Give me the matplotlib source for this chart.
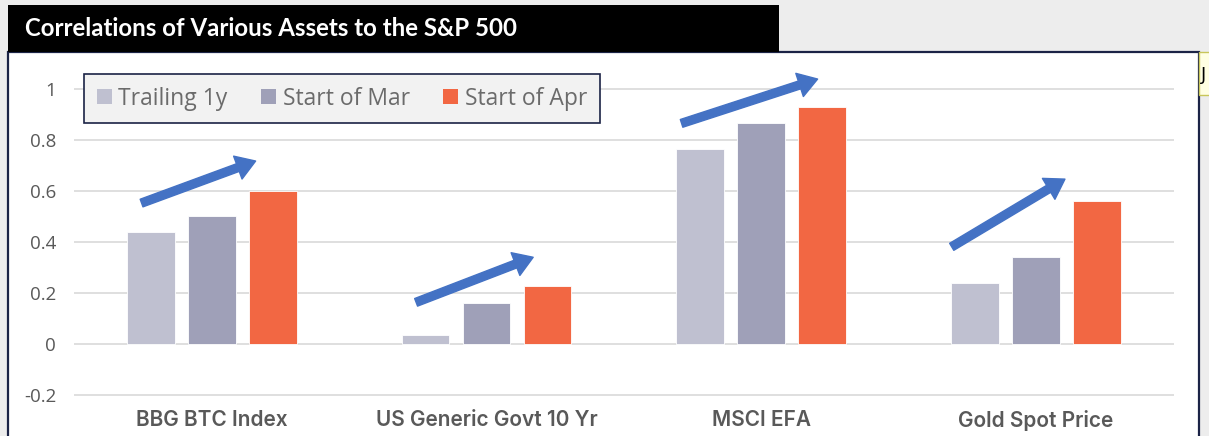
import numpy as np
import matplotlib.pyplot as plt
from matplotlib.patches import Rectangle, Patch

# data
categories = ['BBG BTC Index', 'US Generic Govt 10 Yr', 'MSCI EFA', 'Gold Spot Price']
series_names = ['Trailing 1y', 'Start of Mar', 'Start of Apr']
trailing_1y = [0.44, 0.035, 0.765, 0.24]
start_mar = [0.505, 0.16, 0.867, 0.342]
start_apr = [0.603, 0.227, 0.93, 0.562]
colors = ['#BFC0D0', '#9FA0B8', '#F26743']
y_ticks = [-0.2, 0, 0.2, 0.4, 0.6, 0.8, 1]
y_tick_labels = ['-0.2', '0', '0.2', '0.4', '0.6', '0.8', '1']

# trend arrows drawn over each group (data coords: start -> tip)
arrows = [((-0.255, 0.554), (0.160, 0.719)),
          ((0.744, 0.164), (1.170, 0.341)),
          ((1.710, 0.867), (2.205, 1.041)),
          ((2.693, 0.382), (3.105, 0.648))]

W, H = 1209, 436
fig = plt.figure(figsize=(W / 100, H / 100), dpi=100, facecolor='#EDEDED')


def fig_rect(x0, y0, x1, y1, **kw):
    # pixel box (top-left origin) -> figure rectangle, kept behind the axes
    r = Rectangle((x0 / W, 1 - y1 / H), (x1 - x0) / W, (y1 - y0) / H,
                  transform=fig.transFigure, zorder=-10, **kw)
    fig.add_artist(r)
    return r


# white chart panel, title bar, little note box on the right
fig_rect(8.4, 52, 1199, 445, facecolor='white', edgecolor='#1B2346', lw=1.6)
fig_rect(8.4, 5, 778.6, 52, facecolor='black', edgecolor='none')
fig.text(25 / W, 1 - 29 / H, 'Correlations of Various Assets to the S&P 500',
         color='white', fontsize=17.3, fontweight='bold', family='Lato',
         va='center', ha='left')
fig_rect(1199, 52, 1215, 95, facecolor='#FFFFE3', edgecolor='#C8C65A', lw=1)
fig.text(1201 / W, 1 - 75 / H, 'J', color='black', fontsize=13, va='center')

ymin, ymax = -0.205, 1.005
ppu = (395 - 89.5) / 1.2
top_px = 89.5 - (ymax - 1) * ppu
bot_px = 395 + (-0.2 - ymin) * ppu
ax = fig.add_axes([74.25 / W, 1 - bot_px / H, (1173.5 - 74.25) / W, (bot_px - top_px) / H])
ax.set_facecolor('none')

x = np.arange(len(categories))
width = 0.174
step = 0.222
for i, vals in enumerate([trailing_1y, start_mar, start_apr]):
    ax.bar(x + (i - 1) * step, vals, width, color=colors[i],
           edgecolor='white', linewidth=0.6, zorder=3)

ax.set_xlim(-0.5, 3.5)
ax.set_ylim(ymin, ymax)
ax.set_yticks(y_ticks)
ax.set_yticklabels(y_tick_labels)
ax.set_xticks(x)
ax.set_xticklabels(categories)
ax.yaxis.grid(True, color='#DCDCDC', lw=1.3, zorder=0)
ax.set_axisbelow(True)
for s in ax.spines.values():
    s.set_visible(False)
ax.tick_params(axis='y', length=0, pad=13, labelsize=13.5, labelcolor='#595959')
ax.tick_params(axis='x', length=0, pad=10, labelsize=15, labelcolor='#595959')
for lab in ax.get_yticklabels():
    lab.set_family('Open Sans')
for lab in ax.get_xticklabels():
    lab.set_family('Inter')
    lab.set_fontweight('semibold')

for start, tip in arrows:
    ax.annotate('', xy=tip, xytext=start, annotation_clip=False,
                arrowprops=dict(arrowstyle='simple,head_width=1.35,head_length=1.05,tail_width=0.45',
                                color='#4472C4', shrinkA=0, shrinkB=0, mutation_scale=13),
                zorder=5)

handles = [Patch(facecolor=c, edgecolor='none') for c in colors]
leg = ax.legend(handles, series_names, ncol=3, loc='upper left',
                bbox_to_anchor=(84 / W, 1 - 74 / H), bbox_transform=fig.transFigure,
                borderaxespad=0, frameon=True, fancybox=False,
                prop={'family': 'Open Sans', 'size': 16.5},
                handlelength=0.65, handleheight=0.65, handletextpad=0.3,
                columnspacing=1.45, borderpad=0.55)
leg.get_frame().set_facecolor('#F2F2F2')
leg.get_frame().set_edgecolor('#1B2346')
leg.get_frame().set_linewidth(1.2)
leg.get_frame().set_alpha(1)
for t in leg.get_texts():
    t.set_color('#6B6B6B')

fig.savefig('out.png', dpi=100, facecolor=fig.get_facecolor())
